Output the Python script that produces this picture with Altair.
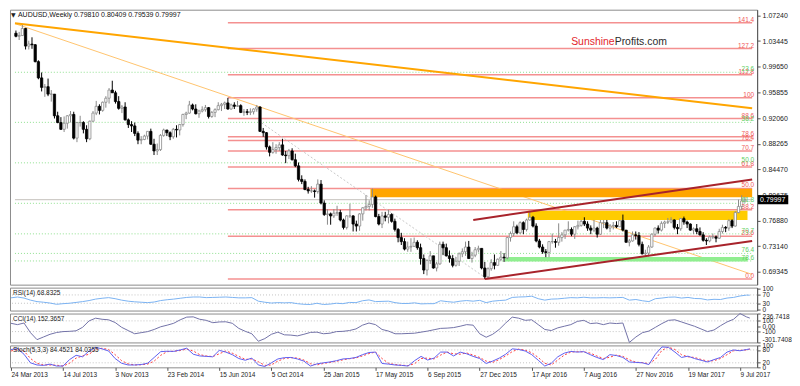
import altair as alt
import pandas as pd

# ---------------- data ----------------
symbol = "AUDUSD,Weekly"
open_first = 1.0460
close = [
    1.0415, 1.0426, 1.0530, 1.0270, 1.0300, 1.0290, 1.0040, 0.9800, 0.9660, 0.9670,
    0.9560, 0.9560, 0.9240, 0.9140, 0.9040, 0.9130, 0.9240, 0.9260, 0.8910, 0.9140,
    0.9140, 0.9040, 0.8900, 0.9160, 0.9280, 0.9380, 0.9320, 0.9440, 0.9500, 0.9620,
    0.9580, 0.9450, 0.9350, 0.9370, 0.9180, 0.9110, 0.9090, 0.8980, 0.8880, 0.8890,
    0.8940, 0.9010, 0.8820, 0.8720, 0.8740, 0.8950, 0.9030, 0.8990, 0.8930, 0.9040,
    0.9030, 0.9110, 0.9260, 0.9280, 0.9400, 0.9340, 0.9270, 0.9310, 0.9330, 0.9360,
    0.9230, 0.9290, 0.9330, 0.9390, 0.9410, 0.9430, 0.9340, 0.9400, 0.9380, 0.9390,
    0.9290, 0.9300, 0.9290, 0.9300, 0.9340, 0.9370, 0.9010, 0.8990, 0.8780, 0.8700,
    0.8740, 0.8770, 0.8810, 0.8660, 0.8650, 0.8720, 0.8590, 0.8500, 0.8300, 0.8270,
    0.8150, 0.8130, 0.8130, 0.8120, 0.8230, 0.7950, 0.7780, 0.7790, 0.7760, 0.7800,
    0.7810, 0.7700, 0.7590, 0.7760, 0.7760, 0.7640, 0.7610, 0.7790, 0.7880, 0.7900,
    0.7930, 0.8040, 0.7750, 0.7640, 0.7760, 0.7740, 0.7780, 0.7680, 0.7560, 0.7440,
    0.7380, 0.7270, 0.7300, 0.7310, 0.7370, 0.7290, 0.7130, 0.6960, 0.7100, 0.7170,
    0.6990, 0.7050, 0.7340, 0.7290, 0.7170, 0.7130, 0.7030, 0.7090, 0.7200, 0.7230,
    0.7300, 0.7130, 0.7180, 0.7260, 0.7280, 0.6990, 0.6860, 0.6980, 0.7070, 0.7030,
    0.7120, 0.7150, 0.7140, 0.7440, 0.7500, 0.7600, 0.7510, 0.7660, 0.7560, 0.7700,
    0.7740, 0.7610, 0.7390, 0.7300, 0.7230, 0.7220, 0.7380, 0.7380, 0.7370, 0.7440,
    0.7480, 0.7550, 0.7560, 0.7490, 0.7600, 0.7620, 0.7680, 0.7640, 0.7580, 0.7550,
    0.7580, 0.7490, 0.7660, 0.7660, 0.7580, 0.7610, 0.7620, 0.7600, 0.7690, 0.7550,
    0.7370, 0.7390, 0.7480, 0.7470, 0.7340, 0.7200, 0.7210, 0.7300, 0.7490, 0.7580,
    0.7550, 0.7650, 0.7670, 0.7670, 0.7700, 0.7590, 0.7570, 0.7720, 0.7670, 0.7640,
    0.7550, 0.7570, 0.7530, 0.7480, 0.7400, 0.7390, 0.7450, 0.7450, 0.7430, 0.7530,
    0.7590, 0.7580, 0.7690, 0.7610, 0.7810, 0.7900, 0.79810, 0.79997,
]
high = [
    1.0500, 1.0480, 1.0582, 1.0540, 1.0350, 1.0400, 1.0300, 1.0060, 0.9880, 0.9710,
    0.9790, 0.9620, 0.9560, 0.9300, 0.9220, 0.9230, 0.9250, 0.9310, 0.9300, 0.9150,
    0.9240, 0.9160, 0.9100, 0.9170, 0.9310, 0.9460, 0.9410, 0.9450, 0.9530, 0.9650,
    0.9758, 0.9610, 0.9530, 0.9400, 0.9440, 0.9200, 0.9160, 0.9140, 0.9010, 0.8940,
    0.8960, 0.9010, 0.9050, 0.8900, 0.8830, 0.8970, 0.9050, 0.9030, 0.9010, 0.9060,
    0.9100, 0.9120, 0.9270, 0.9300, 0.9460, 0.9420, 0.9410, 0.9330, 0.9380, 0.9400,
    0.9370, 0.9310, 0.9350, 0.9440, 0.9430, 0.9450, 0.9505, 0.9420, 0.9440, 0.9460,
    0.9410, 0.9340, 0.9340, 0.9350, 0.9350, 0.9400, 0.9380, 0.9060, 0.9000, 0.8800,
    0.8850, 0.8820, 0.8850, 0.8900, 0.8720, 0.8750, 0.8760, 0.8680, 0.8550, 0.8360,
    0.8300, 0.8190, 0.8200, 0.8150, 0.8300, 0.8290, 0.7990, 0.7860, 0.7810, 0.7860,
    0.7910, 0.7850, 0.7720, 0.7770, 0.7940, 0.7770, 0.7690, 0.7800, 0.7890, 0.8070,
    0.7990, 0.8163, 0.8060, 0.7790, 0.7820, 0.7820, 0.7850, 0.7800, 0.7720, 0.7580,
    0.7510, 0.7430, 0.7380, 0.7430, 0.7440, 0.7400, 0.7350, 0.7190, 0.7120, 0.7240,
    0.7170, 0.7080, 0.7380, 0.7380, 0.7350, 0.7250, 0.7180, 0.7150, 0.7220, 0.7280,
    0.7380, 0.7390, 0.7230, 0.7300, 0.7320, 0.7280, 0.7080, 0.7000, 0.7120, 0.7190,
    0.7130, 0.7240, 0.7210, 0.7450, 0.7530, 0.7680, 0.7630, 0.7680, 0.7680, 0.7720,
    0.7835, 0.7760, 0.7650, 0.7420, 0.7340, 0.7270, 0.7390, 0.7500, 0.7420, 0.7650,
    0.7520, 0.7550, 0.7680, 0.7590, 0.7610, 0.7690, 0.7700, 0.7740, 0.7680, 0.7620,
    0.7700, 0.7600, 0.7700, 0.7700, 0.7700, 0.7640, 0.7670, 0.7680, 0.7700, 0.7780,
    0.7550, 0.7420, 0.7530, 0.7530, 0.7520, 0.7380, 0.7260, 0.7330, 0.7500, 0.7590,
    0.7620, 0.7680, 0.7690, 0.7730, 0.7740, 0.7710, 0.7640, 0.7730, 0.7750, 0.7690,
    0.7650, 0.7590, 0.7640, 0.7590, 0.7520, 0.7430, 0.7470, 0.7500, 0.7470, 0.7570,
    0.7630, 0.7610, 0.7710, 0.7710, 0.7830, 0.8000, 0.8065, 0.80409,
]
low = [
    1.0400, 1.0360, 1.0420, 1.0220, 1.0220, 1.0230, 1.0030, 0.9780, 0.9600, 0.9520,
    0.9530, 0.9450, 0.9200, 0.9130, 0.9030, 0.9000, 0.9050, 0.9140, 0.8890, 0.8850,
    0.9080, 0.8980, 0.8850, 0.8880, 0.9150, 0.9250, 0.9260, 0.9300, 0.9360, 0.9420,
    0.9580, 0.9420, 0.9330, 0.9280, 0.9170, 0.9060, 0.9000, 0.8940, 0.8820, 0.8820,
    0.8880, 0.8890, 0.8810, 0.8660, 0.8660, 0.8720, 0.8930, 0.8940, 0.8880, 0.8900,
    0.8920, 0.8950, 0.9080, 0.9190, 0.9270, 0.9320, 0.9260, 0.9210, 0.9290, 0.9300,
    0.9200, 0.9210, 0.9220, 0.9320, 0.9310, 0.9340, 0.9330, 0.9330, 0.9340, 0.9370,
    0.9280, 0.9240, 0.9250, 0.9250, 0.9260, 0.9300, 0.9000, 0.8930, 0.8740, 0.8640,
    0.8680, 0.8680, 0.8720, 0.8650, 0.8540, 0.8600, 0.8580, 0.8480, 0.8270, 0.8230,
    0.8140, 0.8090, 0.8100, 0.8030, 0.8090, 0.7930, 0.7760, 0.7630, 0.7630, 0.7730,
    0.7760, 0.7680, 0.7560, 0.7560, 0.7730, 0.7530, 0.7530, 0.7540, 0.7690, 0.7840,
    0.7840, 0.7880, 0.7740, 0.7620, 0.7580, 0.7680, 0.7650, 0.7660, 0.7530, 0.7370,
    0.7330, 0.7250, 0.7230, 0.7230, 0.7300, 0.7260, 0.7040, 0.6900, 0.6880, 0.7050,
    0.6980, 0.6940, 0.7040, 0.7180, 0.7160, 0.7070, 0.7000, 0.7010, 0.7020, 0.7150,
    0.7170, 0.7130, 0.7070, 0.7150, 0.7220, 0.6970, 0.6827, 0.6830, 0.6950, 0.6970,
    0.7020, 0.7090, 0.7080, 0.7120, 0.7380, 0.7460, 0.7490, 0.7490, 0.7490, 0.7530,
    0.7690, 0.7590, 0.7370, 0.7280, 0.7200, 0.7150, 0.7150, 0.7350, 0.7290, 0.7320,
    0.7380, 0.7420, 0.7530, 0.7460, 0.7420, 0.7560, 0.7600, 0.7610, 0.7540, 0.7490,
    0.7520, 0.7440, 0.7480, 0.7580, 0.7560, 0.7520, 0.7560, 0.7580, 0.7600, 0.7530,
    0.7370, 0.7310, 0.7380, 0.7410, 0.7310, 0.7190, 0.7160, 0.7160, 0.7290, 0.7460,
    0.7500, 0.7530, 0.7580, 0.7640, 0.7650, 0.7560, 0.7490, 0.7540, 0.7630, 0.7580,
    0.7540, 0.7490, 0.7490, 0.7470, 0.7380, 0.7330, 0.7370, 0.7420, 0.7370, 0.7420,
    0.7500, 0.7520, 0.7540, 0.7580, 0.7600, 0.7800, 0.7850, 0.79539,
]

date_labels = ["24 Mar 2013", "14 Jul 2013", "3 Nov 2013", "23 Feb 2014", "15 Jun 2014",
               "5 Oct 2014", "25 Jan 2015", "17 May 2015", "6 Sep 2015", "27 Dec 2015",
               "17 Apr 2016", "7 Aug 2016", "27 Nov 2016", "19 Mar 2017", "9 Jul 2017"]
date_ticks = [0, 16, 32, 48, 64, 80, 96, 112, 128, 144, 160, 176, 192, 208, 224]
price_ticks = [1.07240, 1.03445, 0.99650, 0.95855, 0.92060, 0.88265,
               0.84470, 0.80675, 0.76880, 0.73140, 0.69345]

# Fibonacci sets
red_fib_levels = [0.0, 23.6, 38.2, 50.0, 61.8, 70.7, 76.4, 78.6, 88.6, 100.0, 112.8, 127.2, 141.4]
red_fib_text = ["0.0", "23.6", "38.2", "50.0", "61.8", "70.7", "76.4", "78.6", "88.6", "100", "112.8", "127.2", "141.4"]
red_fib_from, red_fib_to = 0.6827, 0.9505
red_fib_start_idx = 66
green_fib_levels = [23.6, 38.2, 50.0, 61.8, 70.7, 76.4, 78.6]
green_fib_text = ["23.6", "38.2", "50.0", "61.8", "70.7", "76.4", "78.6"]
green_fib_0, green_fib_100 = 1.1080, 0.6009

# zones (bar index range, price range)
orange_zone = {"x1": 110.4, "x2": 229.25, "lo": 0.8035, "hi": 0.8163}
yellow_zone = {"x1": 159.4, "x2": 227.8, "lo": 0.7700, "hi": 0.7835}
green_zone = {"x1": 152.2, "x2": 227.8, "lo": 0.7085, "hi": 0.7152}

# trend lines (bar index, price)
thick_orange_idx, thick_orange_px = [-0.3, 229.25], [1.0609, 0.9351]
thin_orange_idx, thin_orange_px = [-0.3, 229.25], [1.0602, 0.6895]
gray_idx, gray_px = [75.5, 146.3], [0.9168, 0.6842]
upper_ch_idx, upper_ch_px = [142.4, 229.25], [0.7701, 0.8299]
lower_ch_idx, lower_ch_px = [146.0, 229.25], [0.6827, 0.7390]

# indicators, sampled every second bar plus the last bar
ind_idx = list(range(0, 227, 2)) + [227]
rsi = [
    56, 60, 55, 45, 38, 35, 31, 25, 28, 30,
    34, 38, 43, 50, 54, 57, 52, 45, 40, 37,
    35, 33, 36, 43, 47, 50, 54, 58, 60, 60,
    57, 58, 59, 60, 58, 56, 56, 57, 40, 35,
    31, 33, 32, 33, 28, 25, 24, 30, 24, 26,
    30, 28, 34, 33, 42, 46, 38, 39, 40, 33,
    29, 29, 32, 27, 28, 28, 42, 38, 35, 40,
    43, 40, 44, 33, 40, 43, 45, 58, 60, 61,
    64, 52, 45, 50, 51, 54, 57, 56, 59, 56,
    56, 57, 56, 57, 58, 45, 48, 42, 38, 52,
    55, 59, 60, 55, 58, 53, 52, 46, 49, 48,
    55, 58, 65, 69, 68.8325,
]
cci = [
    55, 30, 60, -120, -250, -200, -150, -117, -100, -95,
    -85, -20, 100, 150, 130, 120, 70, -20, -80, -140,
    -120, -100, -60, -10, 20, 55, 120, 170, 175, 130,
    110, 66, 80, 83, 55, -40, -95, -140, -280, -230,
    -150, -110, -160, -165, -180, -150, -115, -110, -140, -130,
    -100, -95, -80, -50, 20, 60, 30, -60, -90, -140,
    -140, -135, -130, -110, -90, -65, -40, -35, -25, 0,
    30, 20, -140, -205, -150, -60, 60, 170, 150, 110,
    120, 30, -60, -80, -30, 0, 30, 90, 110, 50,
    60, 30, 60, 50, 60, -301.7408, -200, -120, -90, -20,
    50, 110, 120, 80, 40, 0, -50, -100, -70, 10,
    80, 130, 236.7418, 174, 152.3657,
]
stoch_k = [
    82, 86, 60, 20, 10, 8, 14, 5, 5, 35,
    55, 48, 75, 92, 85, 75, 40, 18, 10, 10,
    12, 18, 45, 72, 74, 73, 80, 88, 60, 52,
    50, 48, 78, 70, 58, 40, 32, 42, 10, 3,
    20, 38, 44, 45, 38, 28, 5, 15, 20, 24,
    30, 38, 40, 45, 58, 68, 70, 17, 14, 10,
    8, 5, 30, 50, 33, 42, 70, 70, 52, 70,
    62, 50, 40, 17, 28, 42, 60, 85, 82, 75,
    58, 32, 5, 18, 48, 65, 73, 70, 72, 58,
    45, 35, 58, 54, 45, 24, 22, 20, 12, 60,
    94, 92, 70, 45, 51, 40, 32, 24, 35, 45,
    70, 80, 76, 82, 84.4521,
]
stoch_d = [
    75, 82, 75, 40, 18, 10, 10, 9, 5, 18,
    42, 52, 60, 82, 88, 82, 58, 30, 15, 10,
    11, 14, 28, 55, 72, 74, 77, 84, 75, 58,
    52, 49, 62, 75, 65, 50, 36, 38, 25, 8,
    10, 28, 40, 44, 42, 33, 16, 10, 17, 22,
    27, 34, 39, 43, 52, 63, 70, 40, 18, 12,
    9, 7, 16, 40, 42, 38, 56, 70, 62, 60,
    66, 56, 45, 28, 22, 35, 52, 72, 84, 79,
    67, 45, 18, 10, 33, 56, 70, 72, 71, 65,
    52, 40, 46, 56, 50, 34, 23, 21, 16, 36,
    78, 93, 82, 58, 48, 45, 36, 28, 30, 40,
    58, 76, 78, 80, 84.0355,
]
cci_tick_vals = [236.7418, 100, 0, -100, -301.7408]
cci_tick_text = ["236.7418", "100", "0.00", "-100", "-301.7408"]

assert len(close) == len(high) == len(low) == 228
assert len(rsi) == len(cci) == len(stoch_k) == len(stoch_d) == len(ind_idx)

# ---------------- styling ----------------
FONT = "Liberation Sans"
W, H_MAIN, H_RSI, H_CCI, H_STO = 750, 276, 23, 29, 22
XS = alt.Scale(domain=[-0.3, 229.25], nice=False, zero=False)
YS = alt.Scale(domain=[0.6744, 1.0808], nice=False, zero=False)

opens = [open_first] + close[:-1]
candles = pd.DataFrame({"idx": list(range(len(close))), "open": opens,
                        "high": high, "low": low, "close": close})
candles["dir"] = ["up" if c >= o else "down" for o, c in zip(opens, close)]

y_axis_main = alt.Axis(orient="right", values=price_ticks, format=".5f", title=None, grid=False,
                       labelFont=FONT, labelFontSize=7, labelColor="#222222", tickSize=3,
                       tickColor="#555555", domainColor="#555555", labelPadding=2,
                       labelOverlap=False, labelFlush=False)

def xq(field="idx"):
    return alt.X(f"{field}:Q", scale=XS, axis=None)

def yq(field):
    return alt.Y(f"{field}:Q", scale=YS, axis=y_axis_main)

# fib lines
red_df = pd.DataFrame({
    "lev": red_fib_levels, "txt": red_fib_text,
    "price": [red_fib_from + l / 100 * (red_fib_to - red_fib_from) for l in red_fib_levels],
    "x1": red_fib_start_idx, "x2": 229.25})
green_df = pd.DataFrame({
    "lev": green_fib_levels, "txt": green_fib_text,
    "price": [green_fib_0 + l / 100 * (green_fib_100 - green_fib_0) for l in green_fib_levels],
    "x1": -0.3, "x2": 229.25})

green_rules = alt.Chart(green_df).mark_rule(color="#8FE08F", strokeWidth=1, strokeDash=[1, 2]).encode(
    x=xq("x1"), x2="x2:Q", y=yq("price"))
red_rules = alt.Chart(red_df).mark_rule(color="#F49090", strokeWidth=1.5).encode(
    x=xq("x1"), x2="x2:Q", y=yq("price"))
bid_line = alt.Chart(pd.DataFrame({"price": [close[-1]], "x1": [-0.3], "x2": [229.25]})).mark_rule(
    color="#C4C0BC", strokeWidth=1).encode(x=xq("x1"), x2="x2:Q", y=yq("price"))

def line_layer(idxs, pxs, color, width, dash=None):
    df = pd.DataFrame({"idx": idxs, "price": pxs})
    kw = dict(color=color, strokeWidth=width, clip=True)
    if dash:
        kw["strokeDash"] = dash
    return alt.Chart(df).mark_line(**kw).encode(x=xq(), y=yq("price"))

gray_line = line_layer(gray_idx, gray_px, "#C8C8C8", 1, [2, 2])
thin_orange = line_layer(thin_orange_idx, thin_orange_px, "#FFC46E", 1)
thick_orange = line_layer(thick_orange_idx, thick_orange_px, "#FFA500", 2)
upper_ch = line_layer(upper_ch_idx, upper_ch_px, "#A8232B", 2)
lower_ch = line_layer(lower_ch_idx, lower_ch_px, "#A8232B", 2)

def zone_layer(z, color):
    df = pd.DataFrame([z])
    return alt.Chart(df).mark_rect(color=color, opacity=1).encode(
        x=xq("x1"), x2="x2:Q", y=yq("lo"), y2="hi:Q")

z_orange = zone_layer(orange_zone, "#FFA500")
z_yellow = zone_layer(yellow_zone, "#FFCC00")
z_green = zone_layer(green_zone, "#90EE90")

dir_stroke = alt.Scale(domain=["up", "down"], range=["#8A8A8A", "#000000"])
dir_fill = alt.Scale(domain=["up", "down"], range=["#FFFFFF", "#000000"])
wicks = alt.Chart(candles).mark_rule(strokeWidth=1).encode(
    x=xq(), y=yq("low"), y2="high:Q",
    stroke=alt.Stroke("dir:N", scale=dir_stroke, legend=None))
bodies = alt.Chart(candles).mark_bar(width=2.3, strokeWidth=0.8).encode(
    x=xq(), y=yq("open"), y2="close:Q",
    fill=alt.Fill("dir:N", scale=dir_fill, legend=None),
    stroke=alt.Stroke("dir:N", scale=dir_stroke, legend=None))

red_labels = alt.Chart(red_df).mark_text(align="right", baseline="alphabetic", dy=-1,
                                         font=FONT, fontSize=6.5, color="#F05A5A").encode(
    x=alt.value(W - 3), y=yq("price"), text="txt:N")
green_labels = alt.Chart(green_df).mark_text(align="right", baseline="alphabetic", dy=-1,
                                             font=FONT, fontSize=6.5, color="#5FCF5F").encode(
    x=alt.value(W - 3), y=yq("price"), text="txt:N")

header_txt = f"{symbol}  {opens[-1]:.5f} {high[-1]:.5f} {low[-1]:.5f} {close[-1]:.5f}"
one = pd.DataFrame({"a": [0]})
header_tri = alt.Chart(one).mark_text(text="▼", font="DejaVu Sans", fontSize=6, color="#222222",
                                      align="left", baseline="middle").encode(
    x=alt.value(1), y=alt.value(5))
header = alt.Chart(one).mark_text(text=header_txt, font=FONT, fontSize=7, color="#111111",
                                  align="left", baseline="middle").encode(
    x=alt.value(8), y=alt.value(5))
brand1 = alt.Chart(one).mark_text(text="Sunshine", font=FONT, fontSize=10.5, color="#E3262E",
                                  align="right", baseline="alphabetic").encode(
    x=alt.value(607), y=alt.value(35))
brand2 = alt.Chart(one).mark_text(text="Profits.com", font=FONT, fontSize=10.5, color="#2B2B2B",
                                  align="left", baseline="alphabetic").encode(
    x=alt.value(607), y=alt.value(35))

last_df = pd.DataFrame({"price": [close[-1]], "lab": [f"{close[-1]:.5f}"]})
price_box = alt.Chart(last_df).mark_point(shape="M-1,-0.3L1,-0.3L1,0.3L-1,0.3Z", size=930,
                                          filled=True, color="#000000", opacity=1, clip=False).encode(
    x=alt.value(W + 16), y=yq("price"))
price_txt = alt.Chart(last_df).mark_text(font=FONT, fontSize=7, color="#FFFFFF", align="left",
                                         baseline="middle", clip=False).encode(
    x=alt.value(W + 3), y=yq("price"), text="lab:N")

main = alt.layer(
    green_rules, red_rules, bid_line, gray_line, thin_orange, thick_orange,
    z_orange, z_yellow, z_green, wicks, bodies, upper_ch, lower_ch,
    red_labels, green_labels, header_tri, header, brand1, brand2, price_box, price_txt,
).properties(width=W, height=H_MAIN)

# ---------------- indicator panels ----------------
ind = pd.DataFrame({"idx": ind_idx, "rsi": rsi, "cci": cci, "k": stoch_k, "d": stoch_d})

def small_axis(values, **kw):
    return alt.Axis(orient="right", values=values, title=None, grid=False, labelFont=FONT,
                    labelFontSize=6.5, labelColor="#222222", tickSize=3, tickColor="#555555",
                    domainColor="#555555", labelPadding=2, labelOverlap=False, **kw)

def panel_label(txt):
    return alt.Chart(one).mark_text(text=txt, font=FONT, fontSize=6.5, color="#222222",
                                    align="left", baseline="middle").encode(
        x=alt.value(3), y=alt.value(5))

RS = alt.Scale(domain=[-5, 105], nice=False, zero=False)
rsi_ax = small_axis([100, 70, 30, 0], format="d", labelFlush=False)
rsi_lv = alt.Chart(pd.DataFrame({"v": [70, 30]})).mark_rule(
    color="#C4C4C4", strokeDash=[1, 2]).encode(y=alt.Y("v:Q", scale=RS, axis=rsi_ax))
rsi_line = alt.Chart(ind).mark_line(color="#7BB3F2", strokeWidth=1).encode(
    x=xq(), y=alt.Y("rsi:Q", scale=RS, axis=rsi_ax))
rsi_panel = alt.layer(rsi_lv, rsi_line, panel_label(f"RSI(14) {rsi[-1]:.4f}")).properties(
    width=W, height=H_RSI)

CS = alt.Scale(domain=[cci_tick_vals[-1], cci_tick_vals[0]], nice=False, zero=False)
cci_expr = "[" + ",".join(repr(t) for t in cci_tick_text) + "][indexof(" + \
    "[" + ",".join(str(v) for v in cci_tick_vals) + "], datum.value)]"
cci_ax = small_axis(cci_tick_vals, labelExpr=cci_expr, labelFlush=True)
cci_lv = alt.Chart(pd.DataFrame({"v": [100, -100]})).mark_rule(
    color="#C4C4C4", strokeDash=[1, 2]).encode(y=alt.Y("v:Q", scale=CS, axis=cci_ax))
cci_line = alt.Chart(ind).mark_line(color="#7272A8", strokeWidth=1).encode(
    x=xq(), y=alt.Y("cci:Q", scale=CS, axis=cci_ax))
cci_panel = alt.layer(cci_lv, cci_line, panel_label(f"CCI(14) {cci[-1]:.4f}")).properties(
    width=W, height=H_CCI)

SS = alt.Scale(domain=[-1, 101], nice=False, zero=False)
date_expr = "[" + ",".join(repr(d) for d in date_labels) + "][indexof(" + \
    "[" + ",".join(str(v) for v in date_ticks) + "], datum.value)]"
x_axis = alt.Axis(values=date_ticks, labelExpr=date_expr, title=None, grid=False, labelFont=FONT,
                  labelFontSize=6.5, labelColor="#222222", labelAlign="left", labelFlush=False,
                  labelOverlap=False, tickSize=3, tickColor="#555555", domain=False, labelPadding=1)
sto_ax = small_axis([100, 80, 20, 0], format="d", labelFlush=False)
sto_lv = alt.Chart(pd.DataFrame({"v": [80, 20]})).mark_rule(
    color="#C4C4C4", strokeDash=[1, 2]).encode(y=alt.Y("v:Q", scale=SS, axis=sto_ax))
sto_k = alt.Chart(ind).mark_line(color="#5F5FF0", strokeWidth=1).encode(
    x=alt.X("idx:Q", scale=XS, axis=x_axis), y=alt.Y("k:Q", scale=SS, axis=sto_ax))
sto_d = alt.Chart(ind).mark_line(color="#FF4040", strokeWidth=1, strokeDash=[2, 2]).encode(
    x=alt.X("idx:Q", scale=XS, axis=x_axis), y=alt.Y("d:Q", scale=SS, axis=sto_ax))
sto_panel = alt.layer(sto_lv, sto_d, sto_k,
                      panel_label(f"Stoch(5,3,3) {stoch_k[-1]:.4f} {stoch_d[-1]:.4f}")).properties(
    width=W, height=H_STO)

chart = alt.vconcat(main, rsi_panel, cci_panel, sto_panel, spacing=3, bounds="flush").properties(
    padding=0, background="#FFFFFF"
).configure_view(stroke="#8C8C8C", strokeWidth=1)

chart.save("out.html", embed_options={"renderer": "svg", "actions": False})
